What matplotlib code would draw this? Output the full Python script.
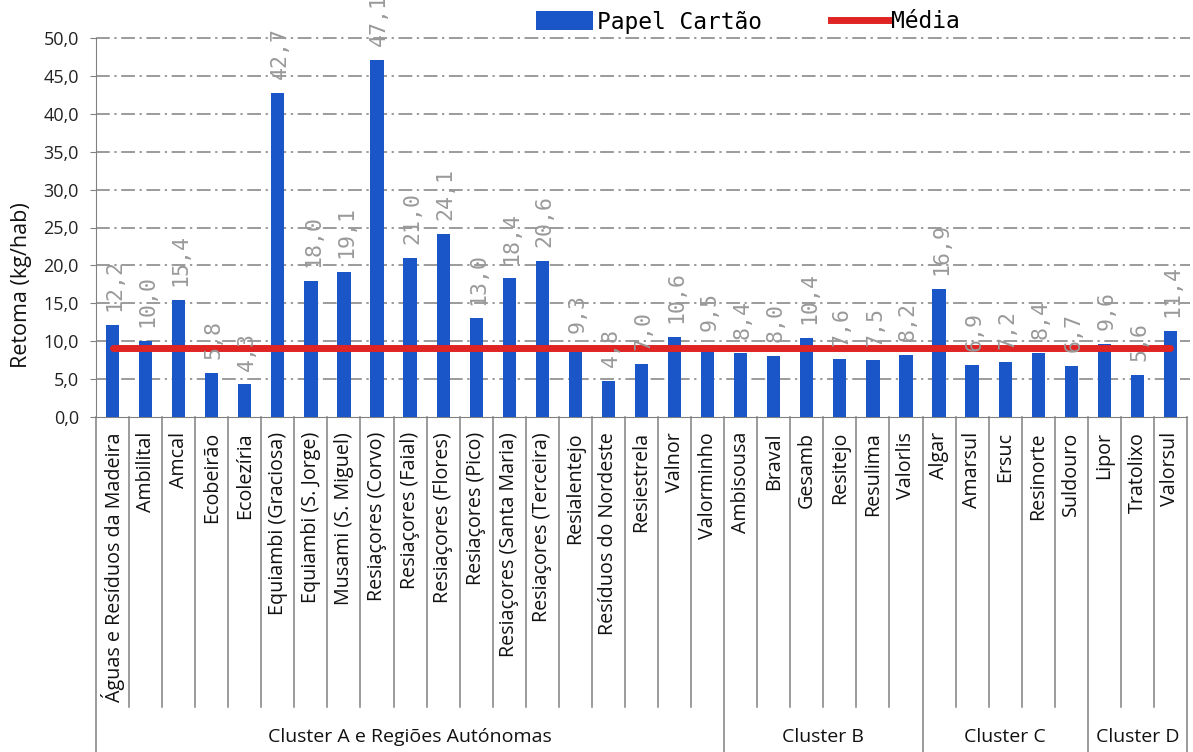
import matplotlib
matplotlib.use("Agg")
import matplotlib.pyplot as plt
import matplotlib.transforms as mtransforms
from matplotlib.lines import Line2D
from matplotlib.patches import Patch

categories = ["Águas e Resíduos da Madeira", "Ambilital", "Amcal", "Ecobeirão", "Ecolezíria",
              "Equiambi (Graciosa)", "Equiambi (S. Jorge)", "Musami (S. Miguel)", "Resiaçores (Corvo)",
              "Resiaçores (Faial)", "Resiaçores (Flores)", "Resiaçores (Pico)", "Resiaçores (Santa Maria)",
              "Resiaçores (Terceira)", "Resialentejo", "Resíduos do Nordeste", "Resiestrela", "Valnor",
              "Valorminho",
              "Ambisousa", "Braval", "Gesamb", "Resitejo", "Resulima", "Valorlis",
              "Algar", "Amarsul", "Ersuc", "Resinorte", "Suldouro",
              "Lipor", "Tratolixo", "Valorsul"]
values = [12.2, 10.0, 15.4, 5.8, 4.3, 42.7, 18.0, 19.1, 47.1, 21.0, 24.1, 13.0, 18.4, 20.6, 9.3,
          4.8, 7.0, 10.6, 9.5,
          8.4, 8.0, 10.4, 7.6, 7.5, 8.2,
          16.9, 6.9, 7.2, 8.4, 6.7,
          9.6, 5.6, 11.4]
media = 9.1
clusters = ["Cluster A e Regiões Autónomas", "Cluster B", "Cluster C", "Cluster D"]
cluster_sizes = [19, 6, 5, 3]
yticks = [0, 5, 10, 15, 20, 25, 30, 35, 40, 45, 50]

W, H = 1193, 752
fig = plt.figure(figsize=(W / 100, H / 100), dpi=100)
L, R, T, B = 96, 1187, 38, 417
ax = fig.add_axes([L / W, 1 - B / H, (R - L) / W, (B - T) / H])

bar_color = "#1a56c8"
x = list(range(len(categories)))
ax.bar(x, values, width=0.4, color=bar_color, zorder=3)
ax.plot(x, [media] * len(x), color="#e02424", linewidth=5, zorder=4, solid_capstyle="round")

mono = "DejaVu Sans Mono"
for xi, v in zip(x, values):
    ax.annotate(f"{v:.1f}".replace(".", ","), (xi, v), xytext=(1.5, 10), textcoords="offset points",
                rotation=90, ha="center", va="bottom", fontsize=15.5, color="#999999",
                family=mono, zorder=5, annotation_clip=False)

ax.set_xlim(-0.5, len(categories) - 0.5)
ax.set_ylim(0, 50)
ax.set_yticks(yticks)
ax.set_yticklabels([f"{t:.1f}".replace(".", ",") for t in yticks], fontsize=13,
                   family="Open Sans", color="#222222")
ax.tick_params(axis="y", length=4.3, color="#808080", pad=8)
ax.set_xticks([])
for s in ["top", "right"]:
    ax.spines[s].set_visible(False)
ax.spines["left"].set_color("#808080")
ax.spines["bottom"].set_color("#808080")
for t in yticks[1:]:
    ax.axhline(t, color="#808080", linewidth=1.1, linestyle=(0, (9, 3, 1.5, 3)), zorder=1,
               xmax=1.003, clip_on=False)

# category label box
trans = mtransforms.blended_transform_factory(ax.transData, ax.transAxes)
y_lab = -(707 - B) / (B - T)
y_bot = -(H - B) / (B - T)
bounds = []
acc = 0
for s in cluster_sizes:
    bounds.append(acc)
    acc += s
bounds.append(acc)
for i in range(len(categories) + 1):
    ybottom = y_bot if i in bounds else y_lab
    ax.plot([i - 0.5, i - 0.5], [0, ybottom], color="#808080", linewidth=1.1,
            transform=trans, clip_on=False)
for xi, c in zip(x, categories):
    ax.text(xi, -(432 - B) / (B - T), c, rotation=90, ha="center", va="top", fontsize=14.2,
            family="Open Sans", color="#111111", transform=trans)
for i, c in enumerate(clusters):
    cx = (bounds[i] + bounds[i + 1]) / 2 - 0.5
    ax.text(cx, -(737 - B) / (B - T), c, ha="center", va="center", fontsize=14,
            family="Open Sans", color="#111111", transform=trans)

fig.text(22 / W, 1 - 285 / H, "Retoma (kg/hab)", rotation=90, ha="center", va="center",
         fontsize=15.5, family="Open Sans", color="#111111")

handles = [Patch(facecolor=bar_color, edgecolor="none"),
           Line2D([0], [0], color="#e02424", linewidth=5)]
fig.legend(handles, ["Papel Cartão", "Média"], loc="center", bbox_to_anchor=(748 / W, 1 - 22 / H),
           ncol=2, frameon=False, prop={"family": mono, "size": 16.5}, handlelength=2.5,
           handletextpad=0.15, columnspacing=3.0, handleheight=0.9)

fig.savefig("out.png", dpi=100)
